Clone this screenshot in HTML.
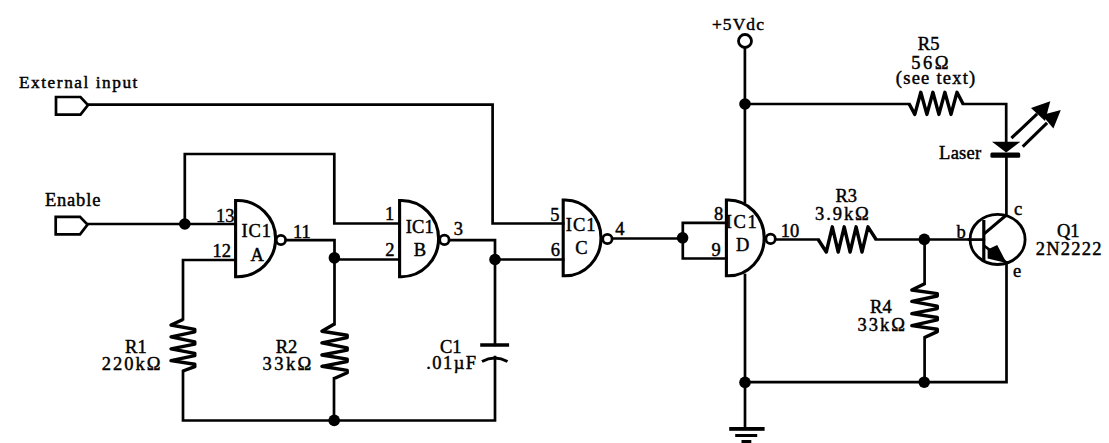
<!DOCTYPE html>
<html><head><meta charset="utf-8"><title>Laser driver schematic</title>
<style>
html,body{margin:0;padding:0;background:#fff;width:1109px;height:443px;overflow:hidden}
svg{display:block}
.w{fill:none;stroke:#000;stroke-width:2.7;stroke-linejoin:miter;stroke-linecap:square}
.z{fill:none;stroke:#000;stroke-width:3.4;stroke-linejoin:round}
.g{fill:none;stroke:#000;stroke-width:3.1}
.b{fill:#fff;stroke:#000;stroke-width:2.8}
.f{fill:#000}
text{font-family:"Liberation Serif",serif;fill:#000;stroke:#000;stroke-width:0.45}
</style></head><body>
<svg width="1109" height="443" viewBox="0 0 1109 443">
<rect width="1109" height="443" fill="#fff"/>
<path d="M56,97 H80.5 L88,105 L80.5,114.7 H56 Z" class="w"/>
<path d="M88,104.6 H492.6 V223.5 H563.2" class="w"/>
<path d="M55.7,216.9 H80 L87.5,224.6 L80,234.3 H55.7 Z" class="w"/>
<path d="M87.5,224 H235.4" class="w"/>
<path d="M184.8,224 V154 H334.3 V223.5 H399.6" class="w"/>
<path d="M235.4,260 H183 V319.2" class="w"/>
<path d="M183,371 V420.5 H495 V357" class="w"/>
<path d="M285.5,240.2 H334.5 V323.8" class="w"/>
<path d="M334.5,259.5 H399.6" class="w"/>
<path d="M334,378.3 V420.5" class="w"/>
<path d="M448.5,240.2 H495 V345" class="w"/>
<path d="M495,259.5 H563.2" class="w"/>
<path d="M611.5,238.5 H682.8" class="w"/>
<path d="M726.4,222.8 H682.8 V258.5 H726.4" class="w"/>
<path d="M775,239.5 H818.2" class="w"/>
<path d="M876.1,239.5 H969" class="w"/>
<path d="M924.6,239 V283.7" class="w"/>
<path d="M924.6,337.5 V382.2" class="w"/>
<path d="M744.9,48.5 V202" class="w"/>
<path d="M745,275 V428" class="w"/>
<path d="M745,104 H909.2" class="w"/>
<path d="M963.1,104 H1006.2 V142" class="w"/>
<path d="M1006.4,156 V214.8" class="w"/>
<path d="M969,239.6 H983.8" class="w"/>
<path d="M1006.5,262.5 V382.2 H745" class="w"/>
<path d="M183.0,319.5 L171.0,325.0 L194.8,329.4 L194.8,331.8 L171.0,336.9 L194.8,341.8 L194.8,344.2 L171.0,348.8 L194.8,353.3 L194.8,355.7 L171.0,360.6 L194.8,364.3 L194.8,366.7 L183.0,371.0" class="z"/>
<path d="M334.8,323.8 L321.9,331.2 L347.2,335.2 L347.2,337.6 L321.9,342.9 L347.2,347.8 L347.2,350.2 L321.9,355.0 L347.2,359.1 L347.2,361.5 L321.9,366.3 L347.2,370.4 L347.2,372.8 L334.8,378.3" class="z"/>
<path d="M818.2,239.5 L826.3,252.0 L832.3,226.8 L838.2,252.0 L844.2,226.8 L850.1,252.0 L856.1,226.8 L862.0,252.0 L868.0,226.8 L876.1,239.5" class="z"/>
<path d="M924.6,283.7 L911.8,290.0 L937.3,293.6 L937.3,296.0 L911.8,301.3 L937.3,306.2 L937.3,308.6 L911.8,313.6 L937.3,317.5 L937.3,319.9 L911.8,325.6 L937.3,329.2 L937.3,331.6 L924.6,337.5" class="z"/>
<path d="M909.2,104.0 L914.8,114.4 L920.8,92.3 L926.9,114.4 L932.9,92.3 L938.9,114.4 L944.9,92.3 L951.0,114.4 L957.0,92.3 L963.1,104.0" class="z"/>
<path d="M235.6,200.5 H237.6 A38.0,38.1 0 0 1 237.6,276.7 H235.6 Z" class="g"/>
<path d="M399.6,200.5 H401.6 A37.0,38.1 0 0 1 401.6,276.7 H399.6 Z" class="g"/>
<path d="M563.2,200.0 H565.2 A35.8,37.9 0 0 1 565.2,275.8 H563.2 Z" class="g"/>
<path d="M726.4,200.0 H728.4 A35.8,37.9 0 0 1 728.4,275.8 H726.4 Z" class="g"/>
<circle cx="280.9" cy="240.0" r="4.7" class="b"/>
<circle cx="444.4" cy="239.9" r="4.7" class="b"/>
<circle cx="607.4" cy="239.0" r="4.7" class="b"/>
<circle cx="770.6" cy="238.9" r="4.7" class="b"/>
<circle cx="184.8" cy="224.0" r="5.8" class="f"/>
<circle cx="334.4" cy="257.9" r="5.8" class="f"/>
<circle cx="495.0" cy="259.5" r="5.8" class="f"/>
<circle cx="682.6" cy="237.8" r="5.8" class="f"/>
<circle cx="924.3" cy="239.4" r="5.8" class="f"/>
<circle cx="745.0" cy="104.0" r="5.8" class="f"/>
<circle cx="745.0" cy="382.4" r="5.8" class="f"/>
<circle cx="924.2" cy="382.2" r="5.8" class="f"/>
<circle cx="334.2" cy="420.4" r="5.8" class="f"/>
<circle cx="745" cy="41" r="6.5" class="b" style="stroke-width:2.8"/>
<path d="M480.2,345 H509.1" class="w" style="stroke-width:3.5;stroke-linecap:butt"/>
<path d="M482,361.5 Q494.7,354.5 507.5,361.5" class="w" style="stroke-width:3;stroke-linecap:butt"/>
<path d="M992,141.8 H1020.4 L1006.2,152.5 Z" class="f"/>
<rect x="990.4" y="152.4" width="29.8" height="5.3" rx="1.5" class="f"/>
<path d="M1012.6,137 L1036,115" class="w" style="stroke-width:3.1"/>
<path d="M1023.8,145.6 L1046,124" class="w" style="stroke-width:3.1"/>
<path d="M1031,108 L1050.3,101.2 L1045,121 Z" class="f"/>
<path d="M1042,115 L1060.8,110 L1053.4,128.5 Z" class="f"/>
<ellipse cx="997.6" cy="239.4" rx="27.5" ry="25.1" class="w" style="stroke-width:2.8"/>
<path d="M983.8,220 V260.3" class="w" style="stroke-width:3.2;stroke-linecap:butt"/>
<path d="M983.8,234.2 L1006.4,215" class="w" style="stroke-width:3;stroke-linecap:butt"/>
<path d="M983.8,245.5 L1006.4,262.5" class="w" style="stroke-width:2.8;stroke-linecap:butt"/>
<path d="M987.6,249.5 L997.2,245 L1006.6,263 L987.6,258.5 Z" class="f"/>
<rect x="729.2" y="427" width="35.4" height="3.8" class="f"/>
<rect x="735.2" y="434" width="22" height="3" class="f"/>
<rect x="741.5" y="440" width="9.8" height="3.4" class="f"/>
<text x="19.00" y="87.60" textLength="118.42" lengthAdjust="spacing" style="font-size:17.30px">External input</text>
<text x="44.90" y="206.00" textLength="55.45" lengthAdjust="spacing" style="font-size:18.50px">Enable</text>
<text x="215.90" y="221.50" style="font-size:18.50px">13</text>
<text x="212.50" y="256.50" style="font-size:18.50px">12</text>
<text x="241.50" y="237.10" textLength="29.55" lengthAdjust="spacing" style="font-size:18.50px">IC1</text>
<text x="250.40" y="260.60" style="font-size:18.50px">A</text>
<text x="293.00" y="237.60" style="font-size:18.50px">11</text>
<text x="385.00" y="220.00" style="font-size:18.50px">1</text>
<text x="385.20" y="255.80" style="font-size:18.50px">2</text>
<text x="405.70" y="233.40" textLength="28.05" lengthAdjust="spacing" style="font-size:18.50px">IC1</text>
<text x="413.70" y="255.60" style="font-size:18.50px">B</text>
<text x="453.70" y="235.20" style="font-size:18.50px">3</text>
<text x="550.20" y="221.00" style="font-size:18.50px">5</text>
<text x="550.70" y="255.80" style="font-size:18.50px">6</text>
<text x="565.70" y="231.00" textLength="29.85" lengthAdjust="spacing" style="font-size:18.50px">IC1</text>
<text x="575.20" y="253.80" style="font-size:18.50px">C</text>
<text x="615.30" y="234.70" style="font-size:18.50px">4</text>
<text x="713.90" y="219.80" style="font-size:18.50px">8</text>
<text x="711.60" y="255.80" style="font-size:18.50px">9</text>
<text x="725.80" y="228.40" textLength="31.05" lengthAdjust="spacing" style="font-size:18.50px">IC1</text>
<text x="736.10" y="251.20" style="font-size:18.50px">D</text>
<text x="780.70" y="237.10" style="font-size:18.50px">10</text>
<text x="835.40" y="202.30" style="font-size:18.50px">R3</text>
<text x="815.00" y="219.70" textLength="53.87" lengthAdjust="spacing" style="font-size:18.50px">3.9kΩ</text>
<text x="956.60" y="237.50" style="font-size:18.50px">b</text>
<text x="1014.00" y="214.70" style="font-size:18.50px">c</text>
<text x="1013.00" y="276.80" style="font-size:18.50px">e</text>
<text x="1057.00" y="236.60" style="font-size:18.50px">Q1</text>
<text x="1035.80" y="255.00" textLength="65.62" lengthAdjust="spacing" style="font-size:18.50px">2N2222</text>
<text x="711.90" y="29.80" textLength="52.03" lengthAdjust="spacing" style="font-size:17.50px">+5Vdc</text>
<text x="917.80" y="49.90" style="font-size:18.50px">R5</text>
<text x="911.20" y="68.50" textLength="37.35" lengthAdjust="spacing" style="font-size:18.50px">56Ω</text>
<text x="895.80" y="83.50" textLength="79.42" lengthAdjust="spacing" style="font-size:18.50px">(see text)</text>
<text x="939.10" y="158.80" textLength="42.09" lengthAdjust="spacing" style="font-size:18.50px">Laser</text>
<text x="125.10" y="352.80" style="font-size:18.50px">R1</text>
<text x="101.70" y="369.50" textLength="58.75" lengthAdjust="spacing" style="font-size:18.50px">220kΩ</text>
<text x="275.70" y="352.80" style="font-size:18.50px">R2</text>
<text x="262.60" y="369.50" textLength="48.70" lengthAdjust="spacing" style="font-size:18.50px">33kΩ</text>
<text x="440.00" y="353.00" style="font-size:18.50px">C1</text>
<text x="426.30" y="368.70" textLength="49.83" lengthAdjust="spacing" style="font-size:18.50px">.01µF</text>
<text x="870.10" y="312.60" style="font-size:18.50px">R4</text>
<text x="857.60" y="330.50" textLength="47.37" lengthAdjust="spacing" style="font-size:18.50px">33kΩ</text>
</svg>
</body></html>
